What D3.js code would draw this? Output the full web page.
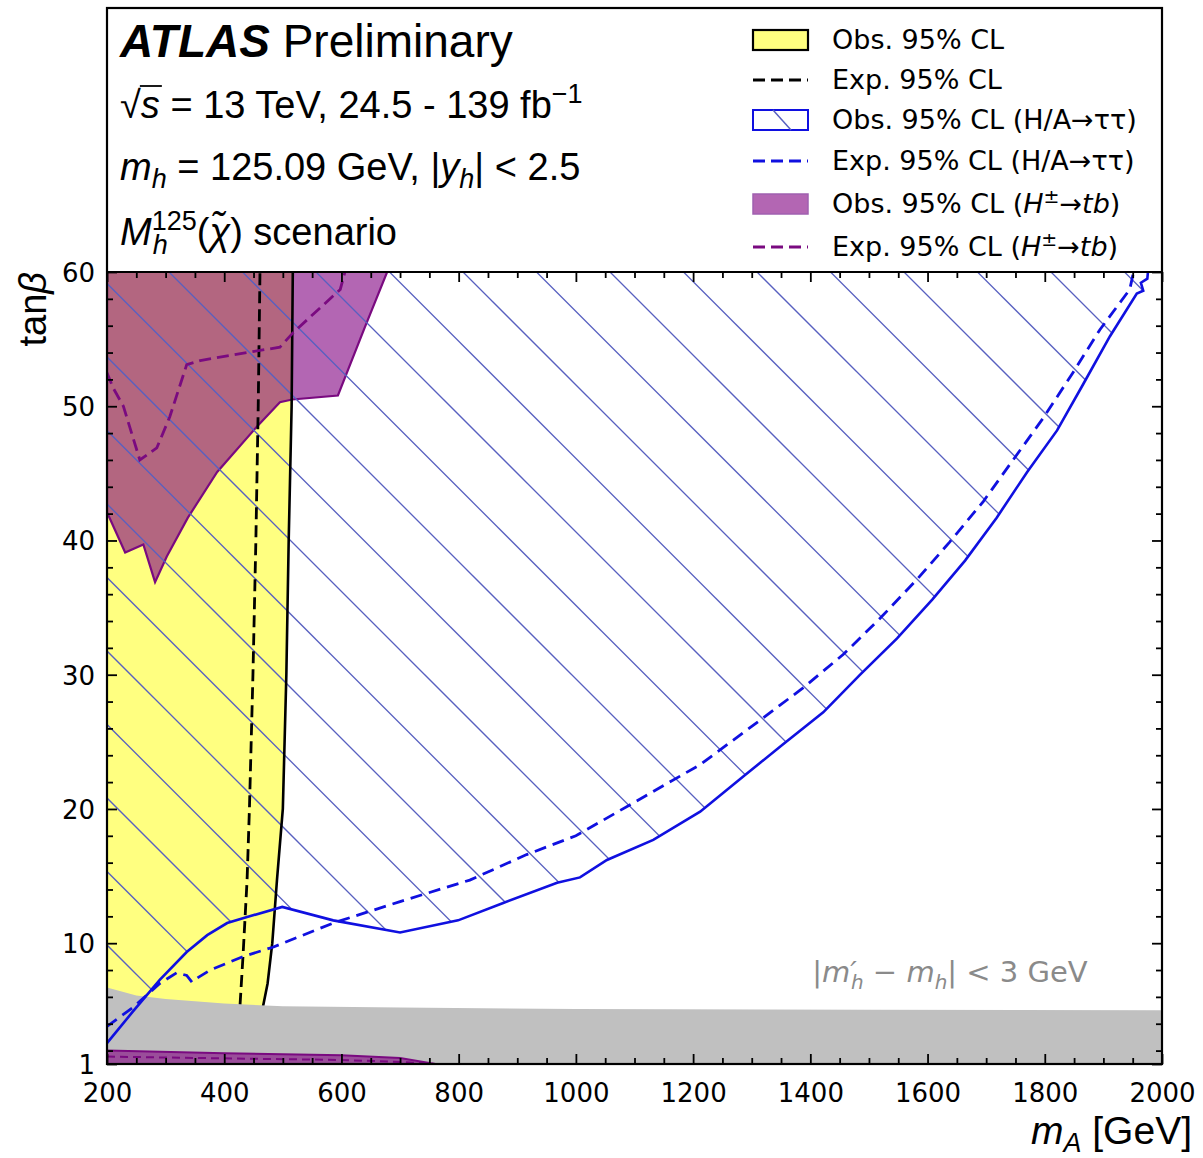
<!DOCTYPE html>
<html>
<head>
<meta charset="utf-8">
<script src="https://cdn.jsdelivr.net/npm/d3@7"></script>
<style>
  body { margin: 0; background: #fff; }
  svg { display: block; }
  .tick text { font-family: "DejaVu Sans", sans-serif; font-size: 26px; fill: #000; }
  .tick line { stroke: #000; stroke-width: 1.8; }
</style>
</head>
<body>
<svg id="chart" width="1203" height="1158"></svg>
<script>
// tanβ vs m_A exclusion contours
const xTicks = [200, 400, 600, 800, 1000, 1200, 1400, 1600, 1800, 2000];
const yTicks = [1, 10, 20, 30, 40, 50, 60];

// H/A -> tautau, observed (solid blue) and expected (dashed blue)
const tauObsMass = [200, 244, 290, 336, 371, 405, 439, 499, 586, 700, 799, 876, 968, 1007, 1053, 1132, 1212, 1285, 1353, 1422, 1485, 1548, 1608, 1664, 1718, 1770, 1821, 1865, 1911, 1957, 1968, 1964, 1975, 1976];
const tauObsTb   = [2.56, 4.9, 7.26, 9.34, 10.6, 11.5, 11.95, 12.7, 11.7, 10.8, 11.7, 13.0, 14.5, 14.9, 16.2, 17.7, 19.8, 22.4, 24.8, 27.2, 30.0, 32.7, 35.6, 38.5, 41.7, 45.1, 48.2, 51.6, 55.2, 58.4, 58.6, 59.2, 59.5, 60];
const tauExpMass = [200, 244, 290, 319, 336, 345, 354, 376, 432, 483, 586, 700, 819, 916, 1000, 1212, 1314, 1387, 1456, 1519, 1582, 1638, 1695, 1746, 1797, 1848, 1894, 1945, 1951, 1958];
const tauExpTb   = [3.8, 5.2, 7.0, 7.8, 7.6, 7.1, 7.4, 8.0, 9.0, 9.7, 11.5, 13.1, 14.7, 16.6, 18.0, 23.3, 26.6, 29.0, 31.5, 34.2, 37.1, 39.9, 42.9, 46.0, 49.1, 52.5, 55.7, 58.7, 59.9, 60];

// combined observed / expected (black)
const combObsTb   = [5.25, 7, 10, 14.7, 20, 30, 40, 50, 60];
const combObsMass = [466, 474, 482, 490, 500, 506, 510, 515, 517];
const combExpTb   = [5.4, 9, 14.7, 20, 30, 40, 50, 60];
const combExpMass = [427, 432, 439, 443, 449, 454, 458, 461];

// H± -> tb observed region (upper) and expected line
const hpObsMass = [200, 231, 262, 282, 302, 338, 388, 456, 495, 516, 594, 640, 678];
const hpObsTb   = [42.1, 39.1, 39.7, 36.9, 38.8, 41.7, 45.1, 48.5, 50.3, 50.5, 50.8, 55.9, 60];
const hpExpMass = [200, 210, 228, 256, 285, 307, 336, 359, 439, 495, 518, 598, 606];
const hpExpTb   = [52.5, 51.4, 50.0, 46.0, 46.9, 49.2, 53.1, 53.4, 54.0, 54.4, 55.5, 58.7, 60];
// H± -> tb observed region at low tanβ
const hpLowMass = [200, 400, 600, 700, 760];
const hpLowTb   = [2.0, 1.8, 1.65, 1.45, 1.0];
const hpLowExpTb = [1.55, 1.42, 1.3, 1.15, 1.0];

// |m'_h - m_h| < 3 GeV band (grey)
const greyMass = [200, 250, 300, 400, 500, 700, 1000, 1500, 2000];
const greyTb   = [6.7, 6.1, 5.85, 5.5, 5.3, 5.2, 5.1, 5.05, 5.0];

const legendLabels = ["Obs. 95% CL", "Exp. 95% CL", "Obs. 95% CL (H/A\u2192\u03c4\u03c4)", "Exp. 95% CL (H/A\u2192\u03c4\u03c4)", "Obs. 95% CL (", "Exp. 95% CL ("];

const YELLOW = "#ffff80", BLUE = "#1010e0", PURPLE = "#7a0a80", HATCH = "#5860c0";

const svg = d3.select("#chart");
const pLeft = 107, pRight = 1162, pTop = 272, pBottom = 1064, frameTop = 8;

const x = d3.scaleLinear().domain([200, 2000]).range([pLeft, pRight]);
const y = d3.scaleLinear().domain([1, 60]).range([pBottom, pTop]);

const zip = (ms, ts) => ms.map((m, i) => [m, ts[i]]);
const line = d3.line().x(d => x(d[0])).y(d => y(d[1]));

const defs = svg.append("defs");
defs.append("clipPath").attr("id", "plotclip")
    .append("rect").attr("x", pLeft).attr("y", pTop).attr("width", pRight - pLeft).attr("height", pBottom - pTop);

const plot = svg.append("g").attr("clip-path", "url(#plotclip)");

// yellow: observed combined exclusion
const yellowPoly = zip(combObsMass, combObsTb).concat([[200, 60], [200, 1], [466, 1]]);
plot.append("path").attr("d", line(yellowPoly) + "Z").attr("fill", YELLOW);

// purple H± region
plot.append("path")
    .attr("d", line([[200, 60]].concat(zip(hpObsMass, hpObsTb))) + "Z")
    .attr("fill", "rgb(128,0,128)").attr("fill-opacity", 0.6)
    .attr("stroke", PURPLE).attr("stroke-width", 2.2);

// hatch over the tautau observed exclusion
const tauRegion = zip(tauObsMass, tauObsTb).concat([[200, 60]]);
defs.append("clipPath").attr("id", "tauclip")
    .append("path").attr("d", line(tauRegion) + "Z");
const step = 73.5, phase = 191;
const hatch = plot.append("g").attr("clip-path", "url(#tauclip)");
for (let c = phase - 20 * step; c < pRight - pTop + step; c += step) {
    // line x - y = c in pixel space
    hatch.append("line")
        .attr("x1", c + pTop - 10).attr("y1", pTop - 10)
        .attr("x2", c + pBottom + 10).attr("y2", pBottom + 10)
        .attr("stroke", HATCH).attr("stroke-width", 1.3);
}

// black observed / expected
plot.append("path").attr("d", line(zip(combObsMass, combObsTb)))
    .attr("fill", "none").attr("stroke", "#000").attr("stroke-width", 2.6);
plot.append("path").attr("d", line(zip(combExpMass, combExpTb)))
    .attr("fill", "none").attr("stroke", "#000").attr("stroke-width", 2.8)
    .attr("stroke-dasharray", "12,6");

// purple expected
plot.append("path").attr("d", line(zip(hpExpMass, hpExpTb)))
    .attr("fill", "none").attr("stroke", PURPLE).attr("stroke-width", 2.8)
    .attr("stroke-dasharray", "12,6");

// grey band
const greyPoly = zip(greyMass, greyTb).concat([[2000, 1], [200, 1]]);
plot.append("path").attr("d", line(greyPoly) + "Z").attr("fill", "#c0c0c0");

// blue tautau lines
plot.append("path").attr("d", line(zip(tauExpMass, tauExpTb)))
    .attr("fill", "none").attr("stroke", BLUE).attr("stroke-width", 2.8)
    .attr("stroke-dasharray", "12,7");
plot.append("path").attr("d", line(zip(tauObsMass, tauObsTb)))
    .attr("fill", "none").attr("stroke", BLUE).attr("stroke-width", 2.6);

// low tanβ H± strip
plot.append("path")
    .attr("d", line(zip(hpLowMass, hpLowTb).concat([[200, 1]])) + "Z")
    .attr("fill", "rgb(128,0,128)").attr("fill-opacity", 0.6);
plot.append("path").attr("d", line(zip(hpLowMass, hpLowTb)))
    .attr("fill", "none").attr("stroke", PURPLE).attr("stroke-width", 2);
plot.append("path").attr("d", line(zip(hpLowMass, hpLowExpTb)))
    .attr("fill", "none").attr("stroke", PURPLE).attr("stroke-width", 2)
    .attr("stroke-dasharray", "8,5");

// grey band label
const gl = svg.append("text").attr("x", 950).attr("y", 982).attr("text-anchor", "middle")
    .style("font-family", "DejaVu Sans").style("font-size", "29px").attr("fill", "#8a8a8a");
gl.append("tspan").text("|");
gl.append("tspan").style("font-style", "italic").text("m\u2032");
gl.append("tspan").attr("dx", -6).attr("dy", 7).style("font-size", "20px").style("font-style", "italic").text("h");
gl.append("tspan").attr("dy", -7).text(" \u2212 ");
gl.append("tspan").style("font-style", "italic").text("m");
gl.append("tspan").attr("dy", 7).style("font-size", "20px").style("font-style", "italic").text("h");
gl.append("tspan").attr("dy", -7).text("| < 3 GeV");

// axes with inward ticks
const xMinor = d3.range(250, 2000, 50).filter(v => v % 200 !== 0);
const yMinor = d3.range(2, 60, 2).filter(v => v % 10 !== 0);

svg.append("g").attr("transform", `translate(0,${pBottom})`)
    .call(d3.axisBottom(x).tickValues(xTicks).tickSize(-10).tickPadding(20).tickFormat(d3.format("d")))
    .call(g => g.select(".domain").remove());
svg.append("g").attr("transform", `translate(0,${pBottom})`)
    .call(d3.axisBottom(x).tickValues(xMinor).tickSize(-6).tickFormat(""))
    .call(g => g.select(".domain").remove());
svg.append("g").attr("transform", `translate(0,${pTop})`)
    .call(d3.axisTop(x).tickValues(xTicks).tickSize(-10).tickFormat(""))
    .call(g => g.select(".domain").remove());
svg.append("g").attr("transform", `translate(0,${pTop})`)
    .call(d3.axisTop(x).tickValues(xMinor).tickSize(-6).tickFormat(""))
    .call(g => g.select(".domain").remove());

svg.append("g").attr("transform", `translate(${pLeft},0)`)
    .call(d3.axisLeft(y).tickValues(yTicks).tickSize(-10).tickPadding(12).tickFormat(d3.format("d")))
    .call(g => g.select(".domain").remove())
    .call(g => g.selectAll(".tick text").attr("dy", "0.36em"));
svg.append("g").attr("transform", `translate(${pLeft},0)`)
    .call(d3.axisLeft(y).tickValues(yMinor).tickSize(-6).tickFormat(""))
    .call(g => g.select(".domain").remove());
svg.append("g").attr("transform", `translate(${pRight},0)`)
    .call(d3.axisRight(y).tickValues(yTicks).tickSize(-10).tickFormat(""))
    .call(g => g.select(".domain").remove());
svg.append("g").attr("transform", `translate(${pRight},0)`)
    .call(d3.axisRight(y).tickValues(yMinor).tickSize(-6).tickFormat(""))
    .call(g => g.select(".domain").remove());

// frame and header separator
svg.append("rect").attr("x", pLeft).attr("y", frameTop).attr("width", pRight - pLeft).attr("height", pBottom - frameTop)
    .attr("fill", "none").attr("stroke", "#000").attr("stroke-width", 2.2);
svg.append("line").attr("x1", pLeft).attr("x2", pRight).attr("y1", pTop).attr("y2", pTop)
    .attr("stroke", "#000").attr("stroke-width", 2.2);

// axis titles
const yt = svg.append("text").attr("transform", `translate(46,${pTop}) rotate(-90)`)
    .attr("text-anchor", "end")
    .style("font-family", "Liberation Sans").style("font-size", "38px");
yt.append("tspan").text("tan");
yt.append("tspan").style("font-style", "italic").text("\u03b2");

const xt = svg.append("text").attr("x", 1192).attr("y", 1144).attr("text-anchor", "end")
    .style("font-family", "Liberation Sans").style("font-size", "39px");
xt.append("tspan").style("font-style", "italic").text("m");
xt.append("tspan").attr("dy", 8).style("font-size", "27px").style("font-style", "italic").text("A");
xt.append("tspan").attr("dy", -8).text(" [GeV]");

// header text
const hf = "Liberation Sans";
const t1 = svg.append("text").attr("x", 120).attr("y", 57).style("font-family", hf).style("font-size", "46px");
t1.append("tspan").style("font-weight", "bold").style("font-style", "italic").text("ATLAS");
t1.append("tspan").text(" Preliminary");

const t2 = svg.append("text").attr("x", 120).attr("y", 118).style("font-family", hf).style("font-size", "38px");
t2.append("tspan").text("\u221a");
t2.append("tspan").style("font-style", "italic").text("s");
t2.append("tspan").text(" = 13 TeV, 24.5 - 139 fb");
t2.append("tspan").attr("dy", -15).style("font-size", "27px").text("\u22121");
// bar over s
const t2n = t2.node();
const sx0 = t2n.getStartPositionOfChar(1).x, sx1 = t2n.getEndPositionOfChar(1).x;
svg.append("line").attr("x1", sx0 - 1).attr("x2", sx1 + 2).attr("y1", 86).attr("y2", 86)
    .attr("stroke", "#000").attr("stroke-width", 1.8);

const t3 = svg.append("text").attr("x", 120).attr("y", 180).style("font-family", hf).style("font-size", "38px");
t3.append("tspan").style("font-style", "italic").text("m");
t3.append("tspan").attr("dy", 8).style("font-size", "27px").style("font-style", "italic").text("h");
t3.append("tspan").attr("dy", -8).text(" = 125.09 GeV, |");
t3.append("tspan").style("font-style", "italic").text("y");
t3.append("tspan").attr("dy", 8).style("font-size", "27px").style("font-style", "italic").text("h");
t3.append("tspan").attr("dy", -8).text("| < 2.5");

const t4 = svg.append("text").attr("x", 120).attr("y", 245).style("font-family", hf).style("font-size", "38px");
t4.append("tspan").style("font-style", "italic").text("M");
t4.append("tspan").attr("dy", -15).style("font-size", "27px").text("125");
t4.append("tspan").attr("dx", -44).attr("dy", 24).style("font-size", "27px").style("font-style", "italic").text("h");
t4.append("tspan").attr("dx", 29).attr("dy", -9).text("(");
t4.append("tspan").style("font-style", "italic").text("\u03c7\u0303");
t4.append("tspan").text(") scenario");

// legend
const lg = svg.append("g");
const ly = [40, 80, 120, 161, 204, 247];
const hx = 753, hw = 55;
lg.append("rect").attr("x", hx).attr("y", ly[0] - 10).attr("width", hw).attr("height", 20)
    .attr("fill", YELLOW).attr("stroke", "#000").attr("stroke-width", 2.2);
lg.append("line").attr("x1", hx).attr("x2", hx + hw).attr("y1", ly[1]).attr("y2", ly[1])
    .attr("stroke", "#000").attr("stroke-width", 3).attr("stroke-dasharray", "12,6");
lg.append("rect").attr("x", hx).attr("y", ly[2] - 10).attr("width", hw).attr("height", 20)
    .attr("fill", "#fff").attr("stroke", BLUE).attr("stroke-width", 2);
lg.append("line").attr("x1", hx + 20).attr("x2", hx + 38).attr("y1", ly[2] - 10).attr("y2", ly[2] + 10)
    .attr("stroke", HATCH).attr("stroke-width", 1.5);
lg.append("line").attr("x1", hx).attr("x2", hx + hw).attr("y1", ly[3]).attr("y2", ly[3])
    .attr("stroke", BLUE).attr("stroke-width", 3).attr("stroke-dasharray", "12,6");
lg.append("rect").attr("x", hx).attr("y", ly[4] - 10).attr("width", hw).attr("height", 20)
    .attr("fill", "rgb(128,0,128)").attr("fill-opacity", 0.6).attr("stroke", "#a060b0").attr("stroke-width", 1.5);
lg.append("line").attr("x1", hx).attr("x2", hx + hw).attr("y1", ly[5]).attr("y2", ly[5])
    .attr("stroke", PURPLE).attr("stroke-width", 3).attr("stroke-dasharray", "12,6");

legendLabels.forEach((lab, i) => {
    const t = lg.append("text").attr("x", 832).attr("y", ly[i] + 9)
        .style("font-family", "DejaVu Sans").style("font-size", "27px").text(lab);
    if (i >= 4) {
        t.append("tspan").style("font-style", "italic").text("H");
        t.append("tspan").attr("dy", -10).style("font-size", "19px").text("\u00b1");
        t.append("tspan").attr("dy", 10).text("\u2192");
        t.append("tspan").style("font-style", "italic").text("tb");
        t.append("tspan").text(")");
    }
});
</script>
</body>
</html>
